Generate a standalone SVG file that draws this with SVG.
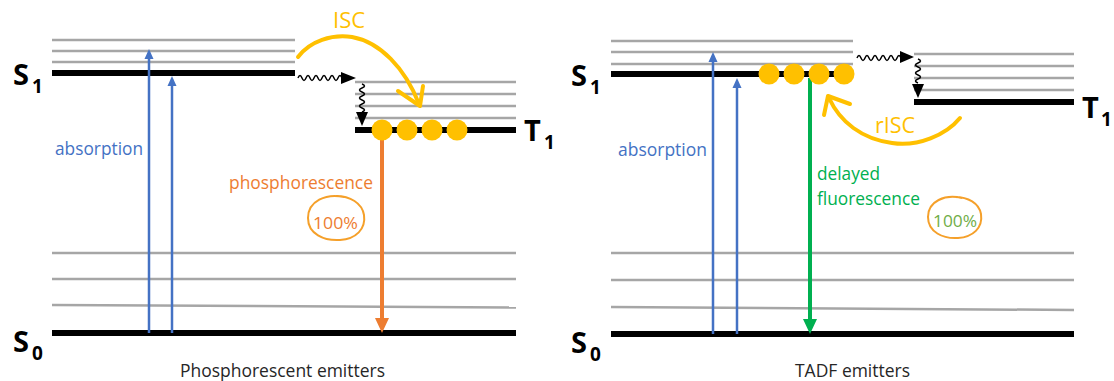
<svg xmlns="http://www.w3.org/2000/svg" width="1114" height="381" viewBox="0 0 1114 381">
<style>
text{font-family:"Open Sans","Liberation Sans",sans-serif}
.g{stroke:#A6A6A6;stroke-width:2.5;fill:none}
.k{stroke:#000;stroke-width:6;fill:none}
.lbl{font-size:29px;font-weight:bold;fill:#000}
.sub{font-size:19px;font-weight:bold;fill:#000}
.blue{stroke:#4472C4;stroke-width:2.5;fill:none}
.bh{fill:#4472C4}
.wave{stroke:#000;stroke-width:1.5;fill:none}
.dot{fill:#FFC000}
.isc{stroke:#FFC000;stroke-width:4;fill:none;stroke-linecap:round;stroke-linejoin:round}
.ring{stroke:#F5A02A;stroke-width:2;fill:none}
.t18{font-size:18px}
.title{font-size:17.5px;fill:#262626}
</style>

<g id="left-panel">
  <g id="left-S1">
    <line class="g" x1="52" y1="40" x2="295" y2="40"/>
    <line class="g" x1="52" y1="51" x2="295" y2="51"/>
    <line class="g" x1="52" y1="62" x2="295" y2="62"/>
    <line class="k" x1="52" y1="73" x2="295" y2="73"/>
    <text class="lbl" x="13" y="85">S</text><text class="sub" x="32" y="93">1</text>
  </g>
  <g id="left-T1">
    <line class="g" x1="355" y1="82" x2="516" y2="82"/>
    <line class="g" x1="355" y1="94" x2="516" y2="94"/>
    <line class="g" x1="355" y1="106" x2="516" y2="106"/>
    <line class="g" x1="355" y1="118" x2="516" y2="118"/>
    <line class="k" x1="355" y1="130" x2="516" y2="130"/>
    <text class="lbl" x="524" y="141">T</text><text class="sub" x="544" y="149">1</text>
  </g>
  <g id="left-S0">
    <line class="g" x1="52" y1="253" x2="516" y2="253"/>
    <line class="g" x1="52" y1="279" x2="516" y2="279"/>
    <line class="g" x1="52" y1="305" x2="516" y2="307.5"/>
    <line class="k" x1="52" y1="333" x2="516" y2="333"/>
    <text class="lbl" x="13" y="352">S</text><text class="sub" x="32" y="360">0</text>
  </g>
  <g id="left-texts">
    <text class="t18" x="55" y="155" fill="#4472C4" textLength="88" lengthAdjust="spacingAndGlyphs">absorption</text>
    <text class="t18" x="229" y="189" fill="#ED7D31" textLength="144" lengthAdjust="spacingAndGlyphs">phosphorescence</text>
    <text x="333" y="28" font-size="22" fill="#FFC000" textLength="32" lengthAdjust="spacingAndGlyphs">ISC</text>
    <text class="title" x="180" y="377" textLength="205" lengthAdjust="spacingAndGlyphs">Phosphorescent emitters</text>
  </g>
  <g id="left-100">
    <path class="ring" d="M344,197 C326,193 308,201 308,218 C308,234 324,241 340,240 C356,239 366,229 364,215 C362,203 350,196 336,196"/>
    <text x="313" y="229" font-size="17" fill="#ED7D31" textLength="45" lengthAdjust="spacingAndGlyphs">100%</text>
  </g>
</g>

<g id="right-panel">
  <g id="right-S1">
    <line class="g" x1="611" y1="41" x2="853" y2="41"/>
    <line class="g" x1="611" y1="52" x2="853" y2="52"/>
    <line class="g" x1="611" y1="64" x2="853" y2="64"/>
    <line class="k" x1="611" y1="74" x2="853" y2="74"/>
    <text class="lbl" x="571" y="86">S</text><text class="sub" x="590" y="94">1</text>
  </g>
  <g id="right-T1">
    <line class="g" x1="914" y1="54" x2="1074" y2="54"/>
    <line class="g" x1="914" y1="66" x2="1074" y2="66"/>
    <line class="g" x1="914" y1="78" x2="1074" y2="78"/>
    <line class="g" x1="914" y1="90" x2="1074" y2="90"/>
    <line class="k" x1="914" y1="102" x2="1074" y2="102"/>
    <text class="lbl" x="1082" y="118">T</text><text class="sub" x="1101" y="126">1</text>
  </g>
  <g id="right-S0">
    <line class="g" x1="611" y1="253" x2="1074" y2="253"/>
    <line class="g" x1="611" y1="280" x2="1074" y2="280"/>
    <line class="g" x1="611" y1="307" x2="1074" y2="310"/>
    <line class="k" x1="611" y1="334" x2="1074" y2="334"/>
    <text class="lbl" x="571" y="353">S</text><text class="sub" x="590" y="361">0</text>
  </g>
  <g id="right-texts">
    <text class="t18" x="618" y="156" fill="#4472C4" textLength="89" lengthAdjust="spacingAndGlyphs">absorption</text>
    <text class="t18" x="817" y="180" fill="#00B050" textLength="63" lengthAdjust="spacingAndGlyphs">delayed</text>
    <text class="t18" x="817" y="205" fill="#00B050" textLength="103" lengthAdjust="spacingAndGlyphs">fluorescence</text>
    <text x="875" y="133" font-size="22" fill="#FFC000" textLength="40" lengthAdjust="spacingAndGlyphs">rISC</text>
    <text class="title" x="795" y="377" textLength="115" lengthAdjust="spacingAndGlyphs">TADF emitters</text>
  </g>
  <g id="right-100">
    <path class="ring" d="M962,198 C945,194 928,201 928,217 C928,232 943,239 958,238 C973,237 983,228 981,214 C979,203 968,197 955,197"/>
    <text x="933" y="227" font-size="17" fill="#70AD47" textLength="44" lengthAdjust="spacingAndGlyphs">100%</text>
  </g>
</g>

<g id="connectors">
  <line class="blue" x1="149" y1="333" x2="149" y2="58"/>
  <polygon class="bh" points="144.5,59 153.5,59 149,49"/>
  <line class="blue" x1="172" y1="333" x2="172" y2="85"/>
  <polygon class="bh" points="167.5,86 176.5,86 172,76"/>
  <line class="blue" x1="713" y1="334" x2="713" y2="61"/>
  <polygon class="bh" points="708.5,62 717.5,62 713,52"/>
  <line class="blue" x1="737" y1="334" x2="737" y2="87"/>
  <polygon class="bh" points="732.5,88 741.5,88 737,78"/>

  <path class="wave" d="M298,78 q2,-5 4,0 t4,0 t4,0 t4,0 t4,0 t4,0 t4,0 t4,0 t4,0 t4,0 t4,0"/>
  <polygon points="341,72 356,78 341,84" fill="#000"/>
  <path class="wave" d="M362,84 q5,2 0,4 t0,4 t0,4 t0,4 t0,4 t0,4 t0,4"/>
  <polygon points="356,112 368,112 362,126" fill="#000"/>
  <path class="wave" d="M857,58 q2,-5 4,0 t4,0 t4,0 t4,0 t4,0 t4,0 t4,0 t4,0 t4,0 t4,0 t4,0"/>
  <polygon points="900,51 914,57 900,63" fill="#000"/>
  <path class="wave" d="M918,59 q5,2 0,4 t0,4 t0,4 t0,4 t0,4 t0,4"/>
  <polygon points="912,84 924,84 918,98" fill="#000"/>

  <line x1="382" y1="135" x2="382" y2="320" stroke="#ED7D31" stroke-width="4"/>
  <polygon points="375,318 389,318 382,333" fill="#ED7D31"/>
  <line x1="810" y1="78" x2="810" y2="321" stroke="#00B050" stroke-width="4"/>
  <polygon points="803,319 817,319 810,334" fill="#00B050"/>

  <path class="isc" d="M298,57 C310,41 332,34 352,37 C380,42 405,68 419,104"/>
  <path class="isc" d="M398,91 L420,106 L423,86"/>
  <path class="isc" d="M960,118 C946,135 918,147 892,143 C862,139 840,122 829,98"/>
  <path class="isc" d="M850,104 L828,96 L824,115"/>
</g>

<g id="excitons">
  <circle class="dot" cx="382" cy="130" r="10.5"/>
  <circle class="dot" cx="407" cy="130" r="10.5"/>
  <circle class="dot" cx="432" cy="130" r="10.5"/>
  <circle class="dot" cx="457" cy="130" r="10.5"/>
  <circle class="dot" cx="769" cy="74" r="10.5"/>
  <circle class="dot" cx="794" cy="74" r="10.5"/>
  <circle class="dot" cx="819" cy="74" r="10.5"/>
  <circle class="dot" cx="844" cy="74" r="10.5"/>
</g>
</svg>
